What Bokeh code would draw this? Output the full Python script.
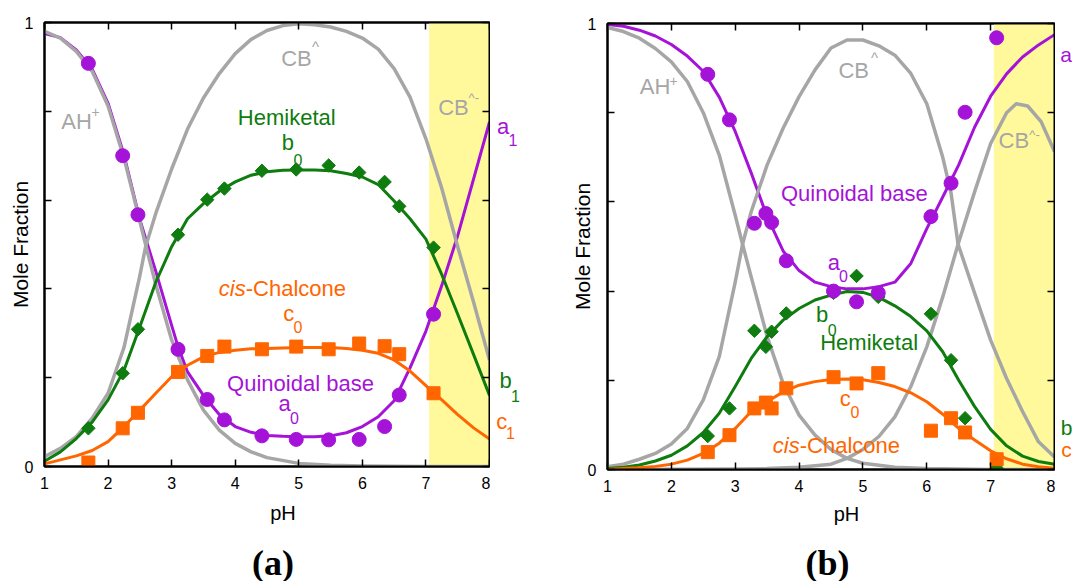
from math import pi
from bokeh.plotting import figure
from bokeh.layouts import row, column
from bokeh.models import Label, LinearAxis, FixedTicker, BoxAnnotation, Range1d
from bokeh.embed import file_html
from bokeh.resources import INLINE

# ---------------- data ----------------
PH_GRID = [1.0, 1.25, 1.5, 1.75, 2.0, 2.25, 2.5, 2.75, 3.0, 3.25, 3.5, 3.75, 4.0, 4.25, 4.5,
           4.75, 5.0, 5.25, 5.5, 5.75, 6.0, 6.25, 6.5, 6.75, 7.0, 7.25, 7.5, 7.75, 8.0]
X_TICKS = [1, 2, 3, 4, 5, 6, 7, 8]
Y_LABELLED = [0, 1]
Y_MINOR = [0.2, 0.4, 0.6, 0.8]
Y_ALL = [0, 0.2, 0.4, 0.6, 0.8, 1.0]
YELLOW_BAND = (7.05, 8.0)

# panel (a) curves
A_AH_X = [1.0, 1.25, 1.5, 1.75, 2.0, 2.25, 2.5, 2.59, 2.75, 3.0, 3.25, 3.5, 3.75, 4.0, 4.25, 4.5,
          5.0, 5.5, 6.0, 7.0, 8.0]
A_AH_Y = [0.980, 0.965, 0.935, 0.890, 0.812, 0.695, 0.552, 0.500, 0.410, 0.285, 0.195, 0.127,
          0.082, 0.052, 0.033, 0.020, 0.007, 0.003, 0.001, 0.0, 0.0]
A_CB_X = [1.0, 1.25, 1.5, 1.75, 2.0, 2.25, 2.5, 2.59, 2.75, 3.0, 3.25, 3.5, 3.75, 4.0, 4.25, 4.5,
          4.75, 5.0, 5.25, 5.5, 5.75, 6.0, 6.25, 6.5, 6.75, 7.0, 7.25, 7.5, 7.75, 8.0]
A_CB_Y = [0.022, 0.041, 0.067, 0.109, 0.165, 0.268, 0.430, 0.495, 0.570, 0.670, 0.760, 0.830,
          0.885, 0.930, 0.962, 0.982, 0.993, 0.997, 0.995, 0.990, 0.980, 0.965, 0.940, 0.896,
          0.832, 0.738, 0.626, 0.495, 0.370, 0.240]
A_QB_X = [1.0, 1.25, 1.5, 1.75, 2.0, 2.25, 2.5, 2.62, 2.75, 3.0, 3.1, 3.25, 3.5, 3.75, 4.0, 4.25,
          4.5, 4.75, 5.0, 5.25, 5.5, 5.75, 6.0, 6.25, 6.5, 6.75, 7.0, 7.25, 7.5, 7.75, 8.0]
A_QB_Y = [0.975, 0.966, 0.938, 0.895, 0.818, 0.702, 0.556, 0.500, 0.440, 0.318, 0.270, 0.213,
          0.160, 0.117, 0.090, 0.077, 0.070, 0.068, 0.067, 0.067, 0.069, 0.076, 0.090, 0.112,
          0.148, 0.222, 0.305, 0.408, 0.520, 0.648, 0.776]
A_HK_Y = [0.012, 0.033, 0.063, 0.100, 0.150, 0.217, 0.315, 0.415, 0.495, 0.558, 0.592, 0.620,
          0.641, 0.656, 0.664, 0.667, 0.668, 0.668, 0.666, 0.660, 0.652, 0.635, 0.598, 0.558,
          0.512, 0.432, 0.343, 0.252, 0.160]
A_CC_Y = [0.006, 0.015, 0.024, 0.036, 0.056, 0.090, 0.127, 0.165, 0.202, 0.228, 0.247, 0.257,
          0.262, 0.265, 0.266, 0.267, 0.268, 0.268, 0.268, 0.266, 0.262, 0.255, 0.240, 0.215,
          0.182, 0.150, 0.117, 0.087, 0.062]
# panel (a) measured points
A_PTS_PH = [1.69, 2.23, 2.47, 3.10, 3.56, 3.83, 4.42, 4.96, 5.47, 5.95, 6.35, 6.58, 7.12]
A_QB_PTS = [0.908, 0.700, 0.567, 0.264, 0.151, 0.105, 0.069, 0.061, 0.060, 0.061, 0.090, 0.161, 0.343]
A_HK_PTS = [0.086, 0.210, 0.309, 0.522, 0.601, 0.626, 0.666, 0.669, 0.678, 0.662, 0.641, 0.586, 0.493]
A_CC_PTS = [0.009, 0.086, 0.121, 0.213, 0.249, 0.270, 0.264, 0.270, 0.264, 0.277, 0.271, 0.253, 0.165]

# panel (b) curves
B_AH_X = [1.0, 1.25, 1.5, 1.75, 2.0, 2.25, 2.5, 2.75, 3.0, 3.115, 3.25, 3.5, 3.75, 4.0, 4.25,
          4.5, 4.75, 5.0, 5.5, 6.0, 7.0, 8.0]
B_AH_Y = [0.991, 0.982, 0.967, 0.944, 0.914, 0.870, 0.800, 0.705, 0.570, 0.505, 0.432, 0.298,
          0.193, 0.122, 0.077, 0.045, 0.025, 0.014, 0.005, 0.002, 0.0, 0.0]
B_CB_X = [1.0, 1.25, 1.5, 1.75, 2.0, 2.25, 2.5, 2.75, 3.0, 3.115, 3.25, 3.5, 3.75, 4.0, 4.25,
          4.5, 4.75, 5.0, 5.25, 5.5, 5.75, 6.0, 6.25, 6.38, 6.49, 6.75, 7.0, 7.25, 7.5, 7.75, 8.0]
B_CB_Y = [0.006, 0.012, 0.023, 0.036, 0.057, 0.092, 0.156, 0.253, 0.420, 0.505, 0.578, 0.683,
          0.765, 0.836, 0.896, 0.945, 0.963, 0.963, 0.950, 0.929, 0.888, 0.820, 0.700, 0.620,
          0.505, 0.395, 0.290, 0.204, 0.130, 0.062, 0.028]
B_CBM_X = [1.0, 3.0, 3.5, 4.0, 4.5, 4.75, 5.0, 5.25, 5.5, 5.75, 6.0, 6.25, 6.49, 6.75, 7.0,
           7.25, 7.4, 7.58, 7.79, 8.0]
B_CBM_Y = [0.0, 0.001, 0.002, 0.005, 0.012, 0.025, 0.045, 0.074, 0.118, 0.186, 0.275, 0.387,
           0.505, 0.623, 0.731, 0.800, 0.820, 0.815, 0.780, 0.713]
B_QB_Y = [0.998, 0.994, 0.985, 0.972, 0.953, 0.927, 0.893, 0.835, 0.758, 0.665, 0.567, 0.490,
          0.446, 0.420, 0.410, 0.405, 0.405, 0.410, 0.420, 0.462, 0.540, 0.611, 0.683, 0.768,
          0.837, 0.887, 0.925, 0.952, 0.975]
B_HK_Y = [0.002, 0.005, 0.010, 0.019, 0.032, 0.053, 0.083, 0.126, 0.186, 0.249, 0.298, 0.335,
          0.361, 0.380, 0.391, 0.399, 0.397, 0.386, 0.367, 0.343, 0.311, 0.264, 0.200, 0.141,
          0.090, 0.053, 0.030, 0.018, 0.012]
B_CC_Y = [0.0, 0.002, 0.004, 0.007, 0.012, 0.021, 0.036, 0.059, 0.092, 0.130, 0.152, 0.174,
          0.189, 0.197, 0.202, 0.203, 0.201, 0.195, 0.186, 0.172, 0.152, 0.124, 0.092, 0.066,
          0.042, 0.024, 0.012, 0.006, 0.003]
# panel (b) measured points
B_PTS_PH = [2.57, 2.91, 3.30, 3.48, 3.57, 3.80, 4.54, 4.90, 5.24, 6.065, 6.38, 6.60, 7.094]
B_QB_PTS = [0.886, 0.784, 0.552, 0.574, 0.554, 0.468, 0.400, 0.376, 0.396, 0.567, 0.642, 0.801, 0.968]
B_HK_PTS = [0.075, 0.137, 0.311, 0.275, 0.309, 0.350, 0.396, 0.434, 0.387, 0.349, 0.245, 0.115, 0.003]
B_CC_PTS = [0.039, 0.077, 0.137, 0.150, 0.137, 0.182, 0.207, 0.193, 0.216, 0.087, 0.115, 0.083, 0.023]

# ---------------- style ----------------
SANS = "Liberation Sans"
SERIF = "Liberation Serif"
GRAY = "#a6a6a6"
PURPLE = "#a513d8"
GREEN = "#0e7c0e"
ORANGE = "#ff6600"
YELLOW = "#fff99b"


def make_panel(width, height, bl, br, bt, bb, ylabel_standoff):
    p = figure(width=width, height=height, x_range=Range1d(1, 8), y_range=Range1d(0, 1),
               output_backend="svg", toolbar_location=None, title=None,
               min_border_left=bl, min_border_right=br, min_border_top=bt, min_border_bottom=bb,
               background_fill_color="white", border_fill_color="white")
    p.grid.visible = False
    p.outline_line_color = "black"
    p.outline_line_width = 2
    xa = p.xaxis[0]
    xa.ticker = FixedTicker(ticks=X_TICKS)
    ya = p.yaxis[0]
    ya.ticker = FixedTicker(ticks=Y_LABELLED, minor_ticks=Y_MINOR)
    top = LinearAxis(ticker=FixedTicker(ticks=[], minor_ticks=X_TICKS))
    right = LinearAxis(ticker=FixedTicker(ticks=[], minor_ticks=Y_ALL))
    p.add_layout(top, "above")
    p.add_layout(right, "right")
    for ax in (xa, ya, top, right):
        ax.axis_line_width = 2
        ax.axis_line_color = "black"
        ax.major_tick_in = 7
        ax.major_tick_out = 0
        ax.minor_tick_in = 7
        ax.minor_tick_out = 0
        ax.major_tick_line_width = 1.5
        ax.minor_tick_line_width = 1.5
        ax.major_tick_line_color = "black"
        ax.minor_tick_line_color = "black"
        ax.major_label_text_font = SANS
        ax.major_label_text_font_size = "16px"
        ax.major_label_text_color = "black"
    xa.major_label_standoff = 10
    ya.major_label_standoff = 11
    ya.axis_label = "Mole Fraction"
    ya.axis_label_text_font = SANS
    ya.axis_label_text_font_size = "21px"
    ya.axis_label_text_font_style = "normal"
    ya.axis_label_text_color = "black"
    ya.axis_label_standoff = ylabel_standoff
    p.add_layout(BoxAnnotation(left=YELLOW_BAND[0], right=YELLOW_BAND[1], fill_color=YELLOW,
                               fill_alpha=1.0, line_color=None, level="underlay"))
    return p


def strip(x0, x1, y0, y1):
    """Blank text-holder whose data coordinates are page pixels."""
    s = figure(width=x1 - x0, height=y1 - y0, x_range=Range1d(x0, x1), y_range=Range1d(y1, y0),
               output_backend="svg", toolbar_location=None, title=None,
               x_axis_location=None, y_axis_location=None,
               min_border_left=0, min_border_right=0, min_border_top=0, min_border_bottom=0,
               background_fill_color="white", border_fill_color="white")
    s.outline_line_color = None
    s.grid.visible = False
    return s


def txt(p, x, y, s, size, color, align="center", baseline="middle", style="normal",
        font=SANS, angle=0.0):
    p.add_layout(Label(x=x, y=y, text=s, text_font=font, text_font_size=f"{size}px",
                       text_color=color, text_align=align, text_baseline=baseline,
                       text_font_style=style, angle=angle))


def draw_points(p, ph, qb, hk, cc):
    p.scatter(ph, hk, marker="square", angle=pi / 4, size=9.5, fill_color=GREEN, line_color=GREEN)
    p.scatter(ph, cc, marker="square", size=13, fill_color=ORANGE, line_color=ORANGE)
    p.scatter(ph, qb, marker="circle", size=14, fill_color=PURPLE, line_color=PURPLE)


# ---------------- panel (a) ----------------
pa = make_panel(490, 496, 44, 1, 22, 30, -10)
pa.line(A_QB_X, A_QB_Y, line_color=PURPLE, line_width=3, line_join="round")
pa.line(A_AH_X, A_AH_Y, line_color=GRAY, line_width=3.5, line_join="round")
pa.line(A_CB_X, A_CB_Y, line_color=GRAY, line_width=3.5, line_join="round")
pa.line(PH_GRID, A_HK_Y, line_color=GREEN, line_width=3, line_join="round")
pa.line(PH_GRID, A_CC_Y, line_color=ORANGE, line_width=3, line_join="round")
draw_points(pa, A_PTS_PH, A_QB_PTS, A_HK_PTS, A_CC_PTS)

txt(pa, 1.263, 0.776, "AH", 22, GRAY, align="left")
txt(pa, 1.802, 0.798, "+", 14, GRAY)
txt(pa, 4.723, 0.920, "CB", 22, GRAY, align="left")
txt(pa, 5.263, 0.946, "^", 15, GRAY)
txt(pa, 7.193, 0.809, "CB", 22, GRAY, align="left")
txt(pa, 7.753, 0.831, "^-", 13, GRAY)
txt(pa, 4.810, 0.787, "Hemiketal", 22, GREEN)
txt(pa, 4.830, 0.729, "b", 22, GREEN)
txt(pa, 4.988, 0.690, "0", 16, GREEN)
txt(pa, 3.742, 0.400, "cis", 22, ORANGE, align="left", style="italic")
txt(pa, 4.165, 0.400, "-Chalcone", 22, ORANGE, align="left")
txt(pa, 4.843, 0.344, "c", 22, ORANGE)
txt(pa, 4.988, 0.314, "0", 16, ORANGE)
txt(pa, 5.027, 0.186, "Quinoidal base", 22, PURPLE)
txt(pa, 4.778, 0.141, "a", 22, PURPLE)
txt(pa, 4.933, 0.110, "0", 16, PURPLE)

ra = strip(490, 552, 0, 496)
txt(ra, 502.5, 116.7, "a", 22, PURPLE)
txt(ra, 512.5, 131.7, "1", 16, PURPLE)
txt(ra, 505.0, 400.0, "b", 22, GREEN)
txt(ra, 515.0, 416.7, "1", 16, GREEN)
txt(ra, 501.2, 446.0, "c", 22, ORANGE)
txt(ra, 510.0, 459.0, "1", 16, ORANGE)

ba = strip(0, 552, 496, 581)
txt(ba, 282.5, 512, "pH", 20, "black", baseline="alphabetic")
txt(ba, 272.5, 562, "(a)", 36, "black", style="bold", font=SERIF)

# ---------------- panel (b) ----------------
pb = make_panel(503, 499, 55, 1, 23, 30, -9)
pb.line(PH_GRID, B_QB_Y, line_color=PURPLE, line_width=3, line_join="round")
pb.line(B_AH_X, B_AH_Y, line_color=GRAY, line_width=3.5, line_join="round")
pb.line(B_CB_X, B_CB_Y, line_color=GRAY, line_width=3.5, line_join="round")
pb.line(B_CBM_X, B_CBM_Y, line_color=GRAY, line_width=3.5, line_join="round")
pb.line(PH_GRID, B_HK_Y, line_color=GREEN, line_width=3, line_join="round")
pb.line(PH_GRID, B_CC_Y, line_color=ORANGE, line_width=3, line_join="round")
draw_points(pb, B_PTS_PH, B_QB_PTS, B_HK_PTS, B_CC_PTS)

txt(pb, 1.506, 0.858, "AH", 22, GRAY, align="left")
txt(pb, 2.034, 0.872, "+", 14, GRAY)
txt(pb, 4.617, 0.894, "CB", 22, GRAY, align="left")
txt(pb, 5.181, 0.924, "^", 15, GRAY)
txt(pb, 7.123, 0.738, "CB", 22, GRAY, align="left")
txt(pb, 7.687, 0.751, "^-", 13, GRAY)
txt(pb, 4.865, 0.618, "Quinoidal base", 22, PURPLE)
txt(pb, 4.544, 0.465, "a", 22, PURPLE)
txt(pb, 4.696, 0.434, "0", 16, PURPLE)
txt(pb, 4.359, 0.348, "b", 22, GREEN)
txt(pb, 4.520, 0.312, "0", 16, GREEN)
txt(pb, 5.097, 0.284, "Hemiketal", 22, GREEN)
txt(pb, 4.724, 0.160, "c", 22, ORANGE)
txt(pb, 4.877, 0.128, "0", 16, ORANGE)
txt(pb, 3.589, 0.054, "cis", 22, ORANGE, align="left", style="italic")
txt(pb, 4.010, 0.054, "-Chalcone", 22, ORANGE, align="left")

rb = strip(1055, 1072, 0, 499)
txt(rb, 1065.5, 35.0, "a", 21, PURPLE)
txt(rb, 1066.0, 452.0, "b", 21, GREEN)
txt(rb, 1066.0, 477.0, "c", 21, ORANGE)

bb = strip(552, 1072, 499, 581)
txt(bb, 846, 513, "pH", 20, "black", baseline="alphabetic")
txt(bb, 827, 562, "(b)", 36, "black", style="bold", font=SERIF)

layout = row(column(row(pa, ra), ba), column(row(pb, rb), bb))
open("out.html", "w").write(file_html(layout, INLINE))
